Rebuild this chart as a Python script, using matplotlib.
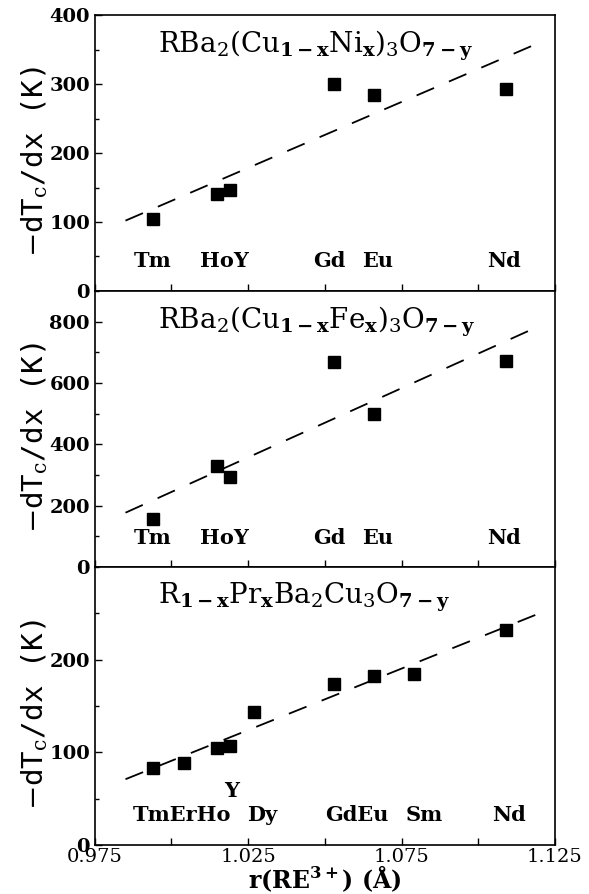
import matplotlib
matplotlib.use('Agg')
import matplotlib.pyplot as plt
from matplotlib.ticker import MultipleLocator, FixedLocator

plt.rcParams['font.family'] = 'DejaVu Serif'
plt.rcParams['mathtext.fontset'] = 'dejavuserif'

# ionic radius r(RE3+) in angstrom
r_ni = [0.994, 1.015, 1.019, 1.053, 1.066, 1.109]
dtc_ni = [105, 141, 147, 300, 284, 293]
fit_ni_x = [0.985, 1.120]
fit_ni_y = [102, 360]

r_fe = [0.994, 1.015, 1.019, 1.053, 1.066, 1.109]
dtc_fe = [155, 329, 295, 670, 500, 671]
fit_fe_x = [0.985, 1.120]
fit_fe_y = [177, 786]

r_pr = [0.994, 1.004, 1.015, 1.019, 1.027, 1.053, 1.066, 1.079, 1.109]
dtc_pr = [83, 89, 105, 107, 144, 174, 182, 184, 232]
fit_pr_x = [0.985, 1.120]
fit_pr_y = [71, 250]

names_top = ['Tm', 'HoY', 'Gd', 'Eu', 'Nd']
names_top_x = [0.9937, 1.0173, 1.0515, 1.0671, 1.1083]
names_pr = ['TmErHo', 'Y', 'Dy', 'GdEu', 'Sm', 'Nd']
names_pr_x = [1.0033, 1.0196, 1.0297, 1.0604, 1.0824, 1.110]
names_pr_y = [32, 58, 32, 32, 32, 32]

titles = [r'RBa$_2$(Cu$_{\mathbf{1-x}}$Ni$_{\mathbf{x}}$)$_3$O$_{\mathbf{7-y}}$',
          r'RBa$_2$(Cu$_{\mathbf{1-x}}$Fe$_{\mathbf{x}}$)$_3$O$_{\mathbf{7-y}}$',
          r'R$_{\mathbf{1-x}}$Pr$_{\mathbf{x}}$Ba$_2$Cu$_3$O$_{\mathbf{7-y}}$']

fig = plt.figure(figsize=(5.89, 8.94), dpi=100)
ax1 = fig.add_axes([0.161, 0.6745, 0.781, 0.3087])
ax2 = fig.add_axes([0.161, 0.3658, 0.781, 0.3087])
ax3 = fig.add_axes([0.161, 0.0548, 0.781, 0.311])

panels = [
    (ax1, r_ni, dtc_ni, fit_ni_x, fit_ni_y, 400, [0, 100, 200, 300, 400], 50),
    (ax2, r_fe, dtc_fe, fit_fe_x, fit_fe_y, 900, [0, 200, 400, 600, 800], 100),
    (ax3, r_pr, dtc_pr, fit_pr_x, fit_pr_y, 300, [0, 100, 200], 50),
]

for i, (ax, x, y, fx, fy, ytop, yticks, ymin) in enumerate(panels):
    ax.plot(fx, fy, color='black', lw=1.3, dashes=(10.5, 9))
    ax.plot(x, y, 's', color='black', ms=8)
    ax.set_xlim(0.975, 1.125)
    ax.set_ylim(0, ytop)
    ax.xaxis.set_major_locator(FixedLocator([0.975, 1.025, 1.075, 1.125]))
    ax.xaxis.set_minor_locator(FixedLocator([1.0, 1.05, 1.1]))
    ax.yaxis.set_major_locator(FixedLocator(yticks))
    ax.yaxis.set_minor_locator(MultipleLocator(ymin))
    ax.tick_params(which='both', direction='in', top=False, right=False, width=1)
    ax.tick_params(axis='x', which='both', length=5)
    ax.tick_params(axis='y', which='major', length=5)
    ax.tick_params(axis='y', which='minor', length=3)
    for lab in ax.get_yticklabels():
        lab.set_fontweight('bold')
        lab.set_fontsize(14)
    for s in ax.spines.values():
        s.set_linewidth(1.2)
    ax.text(-0.13, 0.47, r'$-$dT$_{\rm c}$/dx (K)', transform=ax.transAxes,
            rotation=90, ha='center', va='center', fontsize=21,
            family='DejaVu Sans Mono')
    ax.text(0.137, 0.89, titles[i], transform=ax.transAxes, ha='left',
            va='center', fontsize=20)

for ax, ylab in [(ax1, 43), (ax2, 96)]:
    ax.tick_params(axis='x', labelbottom=False)
    for name, xn in zip(names_top, names_top_x):
        ax.text(xn, ylab, name, ha='center', va='center', fontsize=15,
                fontweight='bold')

for name, xn, yn in zip(names_pr, names_pr_x, names_pr_y):
    ax3.text(xn, yn, name, ha='center', va='center', fontsize=15,
             fontweight='bold')

ax3.set_xticklabels(['0.975', '1.025', '1.075', '1.125'], fontsize=14)
ax3.tick_params(axis='x', pad=2)
ax3.set_xlabel(r'r(RE$^{\mathbf{3+}}$) ($\mathbf{\AA}$)', fontsize=17,
               fontweight='bold', labelpad=-2)

plt.savefig('out.png', dpi=100)
